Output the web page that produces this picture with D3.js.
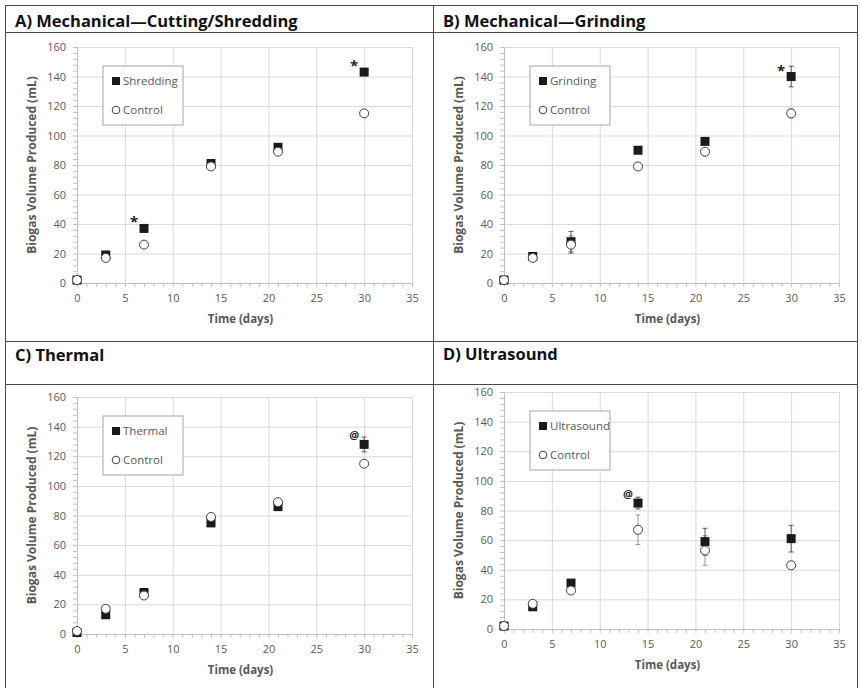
<!DOCTYPE html>
<html>
<head>
<meta charset="utf-8">
<script src="https://cdn.jsdelivr.net/npm/d3@7"></script>
<style>
  body { margin: 0; background: #fff; }
  svg { display: block; }
  text { font-family: 'Open Sans', sans-serif; }
</style>
</head>
<body>
<svg id="fig" width="861" height="688"></svg>
<script>
// sampling days
const days = [0, 3, 7, 14, 21, 30];

// treatment series (mL)
const shredding = [2, 19, 37, 81, 92, 143];
const grinding = [2, 18, 28, 90, 96, 140];
const thermal = [1, 13, 28, 75, 86, 128];
const ultrasound = [2, 15, 31, 85, 59, 61];

// controls
const controlMech = [2, 17, 26, 79, 89, 115];
const controlD = [2, 17, 26, 67, 53, 43];

// error bars (+/-), 0 = not shown
const shreddingErr = [0, 0, 0, 0, 0, 0];
const grindingErr = [0, 0, 7, 0, 0, 7];
const thermalErr = [0, 0, 0, 0, 0, 5];
const ultrasoundErr = [0, 0, 0, 4, 9, 9];
const controlAErr = [0, 0, 0, 0, 0, 0];
const controlBErr = [0, 0, 6, 0, 2, 3];
const controlCErr = [0, 0, 0, 0, 0, 0];
const controlDErr = [0, 0, 0, 10, 10, 0];

// significance marks
const shreddingMarks = ['', '', '*', '', '', '*'];
const grindingMarks = ['', '', '', '', '', '*'];
const thermalMarks = ['', '', '', '', '', '@'];
const ultrasoundMarks = ['', '', '', '@', '', ''];

const panelTitles = ['A) Mechanical\u2014Cutting/Shredding', 'B) Mechanical\u2014Grinding', 'C) Thermal', 'D) Ultrasound'];
const treatmentNames = ['Shredding', 'Grinding', 'Thermal', 'Ultrasound'];
const xTicks = [0, 5, 10, 15, 20, 25, 30, 35];
const yTicks = [0, 20, 40, 60, 80, 100, 120, 140, 160];

const panels = [
    { title: panelTitles[0], name: treatmentNames[0], trt: shredding, trtErr: shreddingErr, ctl: controlMech, ctlErr: controlAErr, marks: shreddingMarks,
      tx: 15, ty: 27, x0: 77, x1: 412, yTop: 47, yBot: 283 },
    { title: panelTitles[1], name: treatmentNames[1], trt: grinding, trtErr: grindingErr, ctl: controlMech, ctlErr: controlBErr, marks: grindingMarks,
      tx: 443, ty: 27, x0: 504, x1: 839, yTop: 47, yBot: 283 },
    { title: panelTitles[2], name: treatmentNames[2], trt: thermal, trtErr: thermalErr, ctl: controlMech, ctlErr: controlCErr, marks: thermalMarks,
      tx: 15, ty: 361, x0: 77, x1: 412, yTop: 397, yBot: 634 },
    { title: panelTitles[3], name: treatmentNames[3], trt: ultrasound, trtErr: ultrasoundErr, ctl: controlD, ctlErr: controlDErr, marks: ultrasoundMarks,
      tx: 443, ty: 360, x0: 504, x1: 839, yTop: 392, yBot: 629 }
];

const svg = d3.select('#fig');

// table borders
const border = svg.append('g').attr('class', 'table')
    .attr('stroke', '#4a4a4a').attr('stroke-width', 1).attr('shape-rendering', 'crispEdges');
[5, 32, 341, 384].forEach(y => border.append('line').attr('x1', 5).attr('x2', 857).attr('y1', y + 0.5).attr('y2', y + 0.5));
[5, 433, 857].forEach(x => border.append('line').attr('x1', x + 0.5).attr('x2', x + 0.5).attr('y1', 5).attr('y2', 688));

panels.forEach(p => drawPanel(p));

function drawPanel(p) {
    const x = d3.scaleLinear().domain([0, 35]).range([p.x0, p.x1]);
    const y = d3.scaleLinear().domain([0, 160]).range([p.yBot, p.yTop]);
    const h = p.yBot - p.yTop;
    const w = p.x1 - p.x0;

    svg.append('text')
        .attr('x', p.tx).attr('y', p.ty)
        .attr('font-size', 16.5).attr('font-weight', 700).attr('fill', '#111')
        .text(p.title);

    const g = svg.append('g');

    // gridlines
    g.append('g')
        .attr('transform', `translate(0,${p.yBot})`)
        .call(d3.axisBottom(x).tickValues(xTicks).tickSize(-h).tickFormat(''))
        .call(s => s.select('.domain').remove())
        .call(s => s.selectAll('line').attr('stroke', '#d9d9d9'));
    g.append('g')
        .attr('transform', `translate(${p.x0},0)`)
        .call(d3.axisLeft(y).tickValues(yTicks).tickSize(-w).tickFormat(''))
        .call(s => s.select('.domain').remove())
        .call(s => s.selectAll('line').attr('stroke', '#d9d9d9'));

    // minor ticks + axis lines
    g.append('g')
        .attr('transform', `translate(0,${p.yBot})`)
        .call(d3.axisBottom(x).tickValues(d3.range(0, 36, 1)).tickSizeOuter(0).tickSize(4).tickFormat(''))
        .call(s => s.selectAll('line, path').attr('stroke', '#bfbfbf'));
    g.append('g')
        .attr('transform', `translate(${p.x0},0)`)
        .call(d3.axisLeft(y).tickValues(d3.range(0, 161, 4)).tickSizeOuter(0).tickSize(4).tickFormat(''))
        .call(s => s.selectAll('line, path').attr('stroke', '#bfbfbf'));

    // tick labels
    g.append('g')
        .attr('transform', `translate(0,${p.yBot})`)
        .call(d3.axisBottom(x).tickValues(xTicks).tickSize(0).tickPadding(11))
        .call(s => s.select('.domain').remove())
        .call(s => s.selectAll('text').attr('fill', '#595959').attr('font-size', 11).attr('font-family', "'Open Sans', sans-serif"));
    g.append('g')
        .attr('transform', `translate(${p.x0},0)`)
        .call(d3.axisLeft(y).tickValues(yTicks).tickSize(0).tickPadding(11))
        .call(s => s.select('.domain').remove())
        .call(s => s.selectAll('text').attr('fill', '#595959').attr('font-size', 11).attr('font-family', "'Open Sans', sans-serif"));

    // axis titles
    g.append('text')
        .attr('x', (p.x0 + p.x1) / 2 - 4).attr('y', p.yBot + 40)
        .attr('text-anchor', 'middle').attr('font-size', 11.5).attr('font-weight', 700).attr('fill', '#595959')
        .text('Time (days)');
    g.append('text')
        .attr('transform', `translate(${p.x0 - 41},${(p.yTop + p.yBot) / 2}) rotate(-90)`)
        .attr('text-anchor', 'middle').attr('font-size', 12).attr('font-weight', 700).attr('fill', '#595959')
        .text('Biogas Volume Produced (mL)');

    // error bars
    const errBars = (vals, errs, color) => {
        days.forEach((d, i) => {
            if (!errs[i]) return;
            const cx = x(d);
            const lo = y(vals[i] - errs[i]);
            const hi = y(vals[i] + errs[i]);
            g.append('line').attr('x1', cx).attr('x2', cx).attr('y1', lo).attr('y2', hi).attr('stroke', color).attr('stroke-width', 0.8);
            [lo, hi].forEach(yy => g.append('line').attr('x1', cx - 2.5).attr('x2', cx + 2.5).attr('y1', yy).attr('y2', yy).attr('stroke', color).attr('stroke-width', 0.8));
        });
    };
    errBars(p.ctl, p.ctlErr, '#7f7f7f');
    errBars(p.trt, p.trtErr, '#333');

    // treatment squares
    g.append('g').selectAll('rect')
        .data(days.map((d, i) => ({ d, v: p.trt[i] })))
        .join('rect')
        .attr('x', e => x(e.d) - 4.5).attr('y', e => y(e.v) - 4.5)
        .attr('width', 9).attr('height', 9)
        .attr('fill', '#1a1a1a');

    // control circles
    g.append('g').selectAll('circle')
        .data(days.map((d, i) => ({ d, v: p.ctl[i] })))
        .join('circle')
        .attr('cx', e => x(e.d)).attr('cy', e => y(e.v)).attr('r', 4.5)
        .attr('fill', '#fff').attr('stroke', '#404040').attr('stroke-width', 1);

    // significance marks
    days.forEach((d, i) => {
        const m = p.marks[i];
        if (!m) return;
        g.append('text')
            .attr('x', x(d) - 10).attr('y', y(p.trt[i]) - (m === '*' ? 1 : 5))
            .attr('text-anchor', 'middle')
            .attr('font-size', m === '*' ? 15 : 11).attr('font-weight', 700).attr('fill', '#222')
            .text(m);
    });

    // legend
    const lg = g.append('g').attr('transform', `translate(${p.x0 + 26},${p.yTop + 19})`);
    lg.append('rect').attr('width', 80).attr('height', 59)
        .attr('fill', '#fff').attr('stroke', '#a6a6a6').attr('stroke-width', 1);
    lg.append('rect').attr('x', 9).attr('y', 11).attr('width', 8).attr('height', 8).attr('fill', '#1a1a1a');
    lg.append('text').attr('x', 20).attr('y', 19).attr('font-size', 11.5).attr('fill', '#595959').text(p.name);
    lg.append('circle').attr('cx', 13).attr('cy', 44).attr('r', 3.8).attr('fill', '#fff').attr('stroke', '#404040');
    lg.append('text').attr('x', 20).attr('y', 48).attr('font-size', 11.5).attr('fill', '#595959').text('Control');
}
</script>
</body>
</html>
